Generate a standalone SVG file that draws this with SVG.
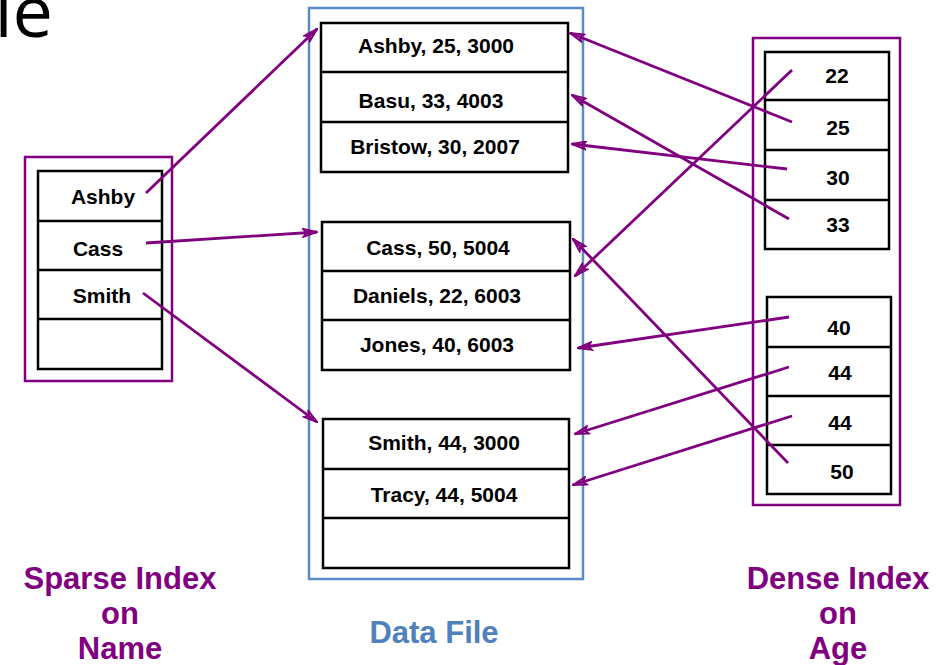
<svg xmlns="http://www.w3.org/2000/svg" width="945" height="665" viewBox="0 0 945 665">
<style>
.rec{fill:#fff;stroke:#000;stroke-width:2.5}
.div{stroke:#000;stroke-width:2.5}
.t{font-family:"Liberation Sans",Arial,sans-serif;font-weight:bold;font-size:21px;fill:#000;text-anchor:middle}
.lbl{font-family:"Liberation Sans",Arial,sans-serif;font-weight:bold;font-size:31px;text-anchor:middle}
.pur{fill:#800080}
.blu{fill:#4F81BD}
.frameP{fill:none;stroke:#800080;stroke-width:2.5}
.frameB{fill:none;stroke:#5B8BC9;stroke-width:2.5}
.arr{stroke:#800080;stroke-width:2.8;fill:none;marker-end:url(#ah)}
</style>
<defs>
<marker id="ah" viewBox="0 0 16 10" markerWidth="16" markerHeight="10" refX="15" refY="5" orient="auto" markerUnits="userSpaceOnUse">
<path d="M1.5,1.2 L15,5 L1.5,8.8 L4.5,5 Z" fill="none" stroke="#800080" stroke-width="2"/>
</marker>
</defs>
<rect width="945" height="665" fill="#fff"/>
<text x="53" y="37" font-family="'Open Sans','Liberation Sans',sans-serif" font-size="72" text-anchor="end" fill="#000">le</text>

<g id="data-file">
<rect class="frameB" x="309" y="8" width="274" height="571"/>
<g id="data-block-1">
<rect class="rec" x="321" y="23" width="247" height="149"/>
<line class="div" x1="321" y1="72" x2="568" y2="72"/>
<line class="div" x1="321" y1="122" x2="568" y2="122"/>
<text class="t" x="436" y="53">Ashby, 25, 3000</text>
<text class="t" x="431" y="108">Basu, 33, 4003</text>
<text class="t" x="435" y="154">Bristow, 30, 2007</text>
</g>
<g id="data-block-2">
<rect class="rec" x="322" y="222" width="248" height="148"/>
<line class="div" x1="322" y1="271" x2="570" y2="271"/>
<line class="div" x1="322" y1="320" x2="570" y2="320"/>
<text class="t" x="438" y="255">Cass, 50, 5004</text>
<text class="t" x="437" y="303">Daniels, 22, 6003</text>
<text class="t" x="437" y="352">Jones, 40, 6003</text>
</g>
<g id="data-block-3">
<rect class="rec" x="323" y="419" width="246" height="149"/>
<line class="div" x1="323" y1="469" x2="569" y2="469"/>
<line class="div" x1="323" y1="518" x2="569" y2="518"/>
<text class="t" x="444" y="450">Smith, 44, 3000</text>
<text class="t" x="444" y="502">Tracy, 44, 5004</text>
</g>
</g>

<g id="sparse-index">
<rect class="frameP" x="25" y="157" width="147" height="224"/>
<rect class="rec" x="38" y="171" width="124" height="198"/>
<line class="div" x1="38" y1="221" x2="162" y2="221"/>
<line class="div" x1="38" y1="270" x2="162" y2="270"/>
<line class="div" x1="38" y1="319" x2="162" y2="319"/>
<text class="t" x="103" y="204">Ashby</text>
<text class="t" x="98" y="256">Cass</text>
<text class="t" x="102" y="303">Smith</text>
</g>

<g id="dense-index">
<rect class="frameP" x="753" y="38" width="147" height="467"/>
<g id="dense-block-1">
<rect class="rec" x="765" y="52" width="124" height="197"/>
<line class="div" x1="765" y1="100" x2="889" y2="100"/>
<line class="div" x1="765" y1="150" x2="889" y2="150"/>
<line class="div" x1="765" y1="200" x2="889" y2="200"/>
<text class="t" x="837" y="83">22</text>
<text class="t" x="838" y="135">25</text>
<text class="t" x="838" y="185">30</text>
<text class="t" x="838" y="232">33</text>
</g>
<g id="dense-block-2">
<rect class="rec" x="767" y="297" width="124" height="197"/>
<line class="div" x1="767" y1="347" x2="891" y2="347"/>
<line class="div" x1="767" y1="396" x2="891" y2="396"/>
<line class="div" x1="767" y1="445" x2="891" y2="445"/>
<text class="t" x="839" y="335">40</text>
<text class="t" x="840" y="380">44</text>
<text class="t" x="840" y="430">44</text>
<text class="t" x="842" y="479">50</text>
</g>
</g>

<g id="connectors">
<line class="arr" x1="146" y1="193" x2="317" y2="29"/>
<line class="arr" x1="146" y1="243" x2="317" y2="232"/>
<line class="arr" x1="143" y1="293" x2="317" y2="422"/>
<line class="arr" x1="792" y1="70" x2="575" y2="276"/>
<line class="arr" x1="792" y1="122" x2="570" y2="33"/>
<line class="arr" x1="787" y1="169" x2="572" y2="144"/>
<line class="arr" x1="789" y1="219" x2="572" y2="95"/>
<line class="arr" x1="789" y1="317" x2="578" y2="348"/>
<line class="arr" x1="789" y1="367" x2="575" y2="434"/>
<line class="arr" x1="792" y1="416" x2="573" y2="485"/>
<line class="arr" x1="788" y1="463" x2="573" y2="239"/>
</g>

<g id="labels">
<text class="lbl pur" x="120" y="589">Sparse Index</text>
<text class="lbl pur" x="120" y="624">on</text>
<text class="lbl pur" x="120" y="659">Name</text>
<text class="lbl blu" x="434" y="643">Data File</text>
<text class="lbl pur" x="838" y="589">Dense Index</text>
<text class="lbl pur" x="838" y="624">on</text>
<text class="lbl pur" x="838" y="659">Age</text>
</g>
</svg>
